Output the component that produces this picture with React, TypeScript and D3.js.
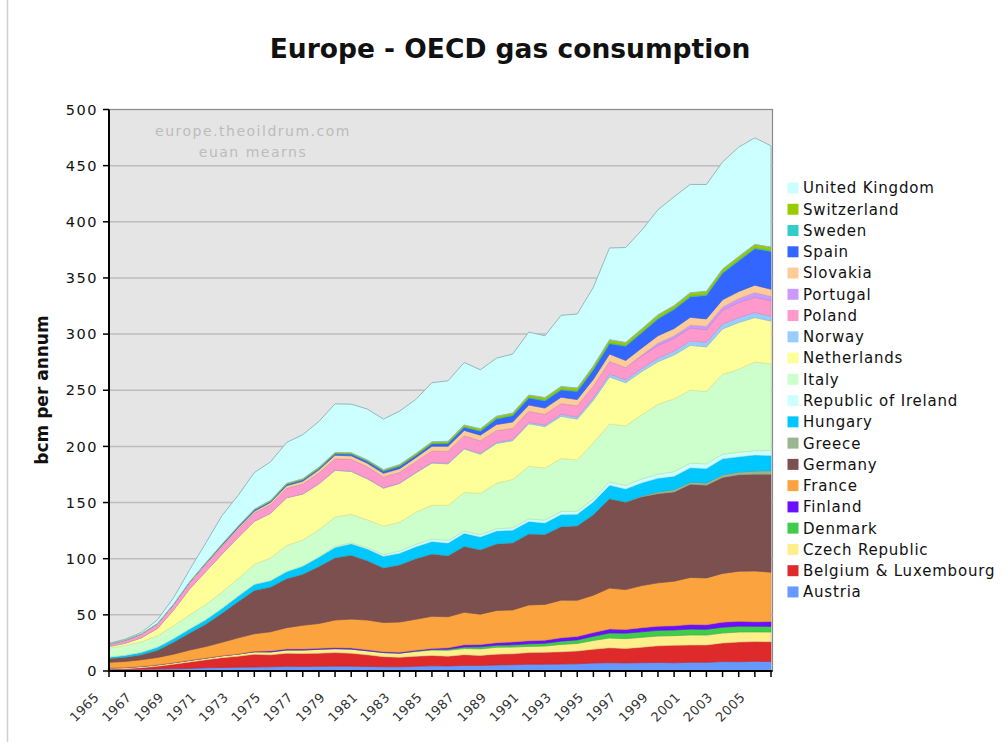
import React from "react";
import * as d3 from "d3";

const years: number[] = d3.range(1965, 2007);

const countries: string[] = [
  "Austria", "Belgium & Luxembourg", "Czech Republic", "Denmark", "Finland",
  "France", "Germany", "Greece", "Hungary", "Republic of Ireland", "Italy",
  "Netherlands", "Norway", "Poland", "Portugal", "Slovakia", "Spain",
  "Sweden", "Switzerland", "United Kingdom",
];

const colors: string[] = [
  "#6699FF", "#DF2A2C", "#FFEE8C", "#3FCC4B", "#6A10FF",
  "#FBA33F", "#7D5050", "#9BB58F", "#00C8FF", "#CCFFFF", "#CCFFCC",
  "#FFFF99", "#99CCFF", "#FF99CC", "#CC99FF", "#FFCC99", "#3366FF",
  "#33CCCC", "#99CC00", "#CCFFFF",
];

// bcm per annum, 1965..2006
const austria = [1.4,1.5,1.5,1.7,2.0,2.3,2.9,3.1,3.4,3.5, 3.7,4.2,4.0,4.2,4.3,4.3,4.0,3.8,3.7,4.2, 4.6,4.5,5.0,4.9,5.4,5.6,6.0,6.0,6.2,6.4, 7.1,7.4,7.2,7.4,7.6,7.3,7.7,7.7,8.4,8.2, 8.6,8.4];
const belgiumLux = [0.4,0.6,1.5,2.6,4.1,5.8,7.1,8.8,9.8,11.4, 10.7,11.6,11.6,11.7,12.1,11.5,10.4,9.0,8.5,9.0, 9.2,8.7,9.5,9.0,9.6,9.7,10.4,10.6,10.9,11.4, 12.3,13.2,12.9,13.8,14.8,15.6,15.4,15.5,16.5,17.6, 17.6,17.7];
const czech = [0.9,1.0,1.1,1.2,1.3,1.4,1.5,1.7,1.9,2.2, 2.6,2.9,3.1,3.4,3.5,3.7,3.6,3.6,3.7,4.2, 4.8,5.2,5.5,5.8,6.1,6.0,5.5,5.6,6.6,6.7, 7.8,8.8,8.7,8.8,8.7,8.6,9.0,8.8,8.9,8.9, 8.6,8.6];
const denmark = [0,0,0,0,0,0,0,0,0,0, 0,0,0,0,0,0,0,0,0,0.3, 0.6,1.0,1.4,1.8,1.9,2.0,2.3,2.5,2.9,3.2, 3.7,4.5,4.9,4.9,5.1,5.0,5.2,5.1,5.2,5.2, 5.0,5.0];
const finland = [0,0,0,0,0,0,0,0,0,0.4, 0.9,0.9,0.9,0.9,0.9,1.0,0.9,0.8,0.8,0.8, 0.9,1.2,1.9,2.0,2.2,2.6,2.7,2.7,2.9,3.1, 3.3,3.5,3.3,3.6,3.7,3.7,4.1,4.1,4.5,4.3, 4.0,4.3];
const france = [5.0,5.4,5.9,6.6,7.6,9.2,10.3,12.0,14.4,15.7, 17.0,19.0,21.1,22.1,24.6,25.7,26.5,26.0,26.9,27.6, 28.6,27.7,29.0,27.1,28.7,28.5,31.9,31.9,33.6,32.2, 33.3,36.4,35.5,37.6,38.6,39.8,41.9,41.7,43.4,44.6, 45.3,44.0];
const germany = [3.6,4.0,4.6,6.5,10.9,15.4,20.1,26.1,32.4,38.7, 40.0,43.8,45.6,50.9,55.6,57.0,53.0,48.7,51.1,54.1, 55.6,54.5,58.8,57.5,59.4,59.9,63.4,62.5,65.6,66.4, 71.9,79.7,77.9,79.0,79.4,79.5,82.9,82.6,85.5,85.9, 86.2,87.2];
const greece = [0,0,0,0,0,0,0,0,0,0, 0,0,0,0,0,0,0,0,0,0, 0,0,0,0,0,0,0,0,0,0, 0,0,0.2,0.8,1.4,2.0,1.9,2.0,2.3,2.4, 2.7,3.2];
const hungary = [1.2,1.6,2.1,2.7,3.1,3.5,3.9,4.2,4.9,5.4, 5.6,6.2,7.2,8.3,9.0,10.1,10.2,10.2,10.2,10.4, 11.0,11.1,11.6,11.3,11.4,11.1,11.0,10.1,10.7,10.2, 11.2,12.0,11.5,11.8,12.3,12.0,12.8,12.8,14.2,13.6, 14.3,13.4];
const ireland = [0,0,0,0,0,0,0,0,0,0, 0,0,0,0,0.9,0.9,1.0,1.5,2.0,2.1, 2.2,2.2,1.9,1.9,2.0,2.1,2.2,2.4,2.6,2.6, 2.7,2.9,3.1,3.3,3.6,4.0,4.2,4.1,4.1,4.1, 3.8,4.5];
const italy = [7.8,8.6,9.3,10.1,11.3,12.6,13.5,14.4,15.6,17.6, 20.2,23.2,23.1,24.4,26.2,25.4,25.0,25.4,25.6,28.7, 30.2,31.3,34.4,36.9,40.5,43.1,46.9,46.5,47.2,45.8, 49.9,51.6,53.2,57.2,62.3,64.9,65.0,64.6,71.2,73.9, 79.1,77.1];
const netherlands = [1.5,2.0,3.5,6.5,14.0,23.0,29.4,33.8,36.7,38.4, 39.7,42.5,40.9,40.6,41.5,38.0,36.4,33.7,34.5,35.0, 37.4,37.0,38.6,34.8,35.4,34.4,37.8,36.8,37.6,36.2, 37.8,41.8,38.2,38.5,37.9,39.0,39.9,39.6,40.4,41.6, 39.5,38.2];
const norway = [0,0,0,0,0,0,0,0,0,0, 0,0,0.2,0.3,0.3,0.4,0.4,0.4,0.5,0.5, 0.6,0.7,0.8,0.9,1.0,1.1,1.3,1.5,1.8,2.0, 2.3,2.6,2.7,2.9,3.2,3.6,3.9,4.1,4.3,4.5, 4.5,4.4];
const poland = [1.8,2.4,3.0,3.8,4.4,5.2,6.0,6.5,7.0,7.3, 7.7,8.4,8.8,9.5,10.2,10.5,10.4,9.7,9.4,9.5, 10.3,10.6,11.1,11.1,10.6,10.0,9.8,9.5,9.6,10.0, 10.5,11.2,10.9,10.9,11.1,11.1,11.5,11.2,12.3,13.2, 13.6,13.7];
const portugal = [0,0,0,0,0,0,0,0,0,0, 0,0,0,0,0,0,0,0,0,0, 0,0,0,0,0,0,0,0,0,0, 0,0,0.1,0.8,2.3,2.4,2.6,3.1,3.0,3.8, 4.2,4.1];
const slovakia = [0.3,0.4,0.5,0.6,0.7,0.8,1.0,1.2,1.4,1.7, 2.0,2.3,2.5,2.8,3.0,3.1,3.2,3.2,3.3,3.6, 4.1,4.4,4.7,5.0,5.3,5.6,5.6,5.5,5.6,5.5, 6.0,6.6,6.2,6.4,6.5,6.5,6.9,6.5,6.3,6.1, 6.6,6.1];
const spain = [0,0,0,0,0.1,0.2,0.6,0.9,1.1,1.2, 1.1,1.3,1.4,1.4,1.5,1.8,2.0,2.2,2.3,2.2, 2.4,2.6,2.8,3.5,5.0,5.5,6.2,6.4,6.4,7.1, 8.4,9.1,12.6,13.4,15.0,16.9,18.2,20.8,23.6,27.3, 32.4,33.7];
const sweden = [0,0,0,0,0,0,0,0,0,0, 0,0,0,0,0,0,0,0,0,0, 0.1,0.3,0.4,0.5,0.6,0.6,0.7,0.8,0.8,0.8, 0.8,0.9,0.8,0.8,0.8,0.8,0.9,1.0,0.9,0.9, 0.8,0.9];
const switzerland = [0,0,0,0,0,0.1,0.2,0.3,0.4,0.6, 0.7,0.8,0.8,0.9,0.9,1.0,1.0,1.1,1.3,1.4, 1.5,1.6,1.7,1.7,1.8,1.9,2.1,2.2,2.4,2.4, 2.6,2.8,2.7,2.8,2.9,2.7,2.9,2.8,2.9,3.0, 3.1,3.0];
const unitedKingdom = [0.8,0.8,1.3,3.2,5.8,10.8,17.6,25.4,27.4,32.6, 34.3,36.4,39.2,40.8,43.4,43.2,45.3,45.0,47.6,48.2, 52.6,53.8,55.6,52.5,51.7,52.5,56.0,55.0,63.3,65.9, 70.1,81.7,84.5,87.9,93.5,96.9,96.4,95.1,95.4,97.4, 94.9,90.1];

const seriesValues: number[][] = [
  austria, belgiumLux, czech, denmark, finland, france, germany, greece,
  hungary, ireland, italy, netherlands, norway, poland, portugal, slovakia,
  spain, sweden, switzerland, unitedKingdom,
];

const yTicks: number[] = [0, 50, 100, 150, 200, 250, 300, 350, 400, 450, 500];
const xLabelYears: number[] = d3.range(1965, 2006, 2);

const W = 1005;
const H = 742;
const plot = { left: 109, right: 771, top: 109.5, bottom: 671 };

export default function App() {
  const x = d3.scaleLinear().domain([1965, 2006]).range([plot.left, plot.right]);
  const y = d3.scaleLinear().domain([0, 500]).range([plot.bottom, plot.top]);

  const rows = years.map((yr, i) => {
    const r: Record<string, number> = { year: yr };
    countries.forEach((c, j) => (r[c] = seriesValues[j][i]));
    return r;
  });
  const stacked = d3.stack<Record<string, number>>().keys(countries)(rows);
  const area = d3
    .area<d3.SeriesPoint<Record<string, number>>>()
    .x((d) => x(d.data.year))
    .y0((d) => y(d[0]))
    .y1((d) => y(d[1]));

  const font = "'DejaVu Sans', Verdana, sans-serif";
  const legendTop = 188;
  const legendStep = 21.26;
  const legendOrder = countries.map((c, i) => i).reverse();

  return (
    <svg
      width={W}
      height={H}
      style={{ position: "absolute", left: 0, top: 0, background: "#fff" }}
      fontFamily={font}
    >
      <rect x={0} y={0} width={W} height={H} fill="#fff" />
      <line x1={7.5} y1={0} x2={7.5} y2={H} stroke="#cfcfcf" strokeWidth={1.5} />
      <text x={510} y={58} textAnchor="middle" fontSize={26.5} fontWeight="bold" fill="#111">
        Europe - OECD gas consumption
      </text>

      <rect
        x={plot.left}
        y={plot.top}
        width={plot.right - plot.left + 1.5}
        height={plot.bottom - plot.top}
        fill="#E5E5E5"
        stroke="#8a8a8a"
        strokeWidth={1.2}
      />
      {yTicks.slice(1, -1).map((t) => (
        <line key={t} x1={plot.left} x2={plot.right + 1.5} y1={y(t)} y2={y(t)} stroke="#bdbdbd" strokeWidth={1.5} />
      ))}

      <text x={253} y={136} textAnchor="middle" fontSize={14} fill="#bcbcbc" letterSpacing={1.5}>
        europe.theoildrum.com
      </text>
      <text x={253} y={157} textAnchor="middle" fontSize={14} fill="#bcbcbc" letterSpacing={1.5}>
        euan mearns
      </text>

      {stacked.map((s, i) => (
        <path
          key={s.key}
          d={area(s) || ""}
          fill={colors[i]}
          stroke={d3.color(colors[i])!.darker(i === 19 ? 0.9 : 0.35).formatHex()}
          strokeWidth={i === 19 ? 1 : 0.6}
        />
      ))}

      {/* axes */}
      <line x1={plot.left} x2={plot.left} y1={plot.top} y2={plot.bottom + 1} stroke="#000" strokeWidth={2} />
      <line x1={plot.left - 1} x2={plot.right + 1.5} y1={plot.bottom} y2={plot.bottom} stroke="#000" strokeWidth={2} />
      {yTicks.map((t) => (
        <g key={t}>
          <line x1={plot.left - 6} x2={plot.left} y1={y(t)} y2={y(t)} stroke="#000" strokeWidth={1.5} />
          <text x={98} y={y(t)} dy="0.36em" textAnchor="end" fontSize={14.5} letterSpacing={1.5} fill="#111">
            {t}
          </text>
        </g>
      ))}
      {years.map((yr) => (
        <line key={yr} x1={x(yr)} x2={x(yr)} y1={plot.bottom} y2={plot.bottom + 6} stroke="#000" strokeWidth={1.5} />
      ))}
      {xLabelYears.map((yr) => (
        <text
          key={yr}
          transform={`translate(${x(yr) - 9},${plot.bottom + 27}) rotate(-45)`}
          textAnchor="end"
          fontSize={13}
          letterSpacing={0.5}
          fill="#333"
        >
          {yr}
        </text>
      ))}

      <text
        transform={`translate(48,390) rotate(-90)`}
        textAnchor="middle"
        fontSize={17}
        fontWeight="bold"
        fill="#111"
      >
        bcm per annum
      </text>

      {legendOrder.map((idx, k) => {
        const cy = legendTop + k * legendStep;
        return (
          <g key={countries[idx]}>
            <rect x={787.5} y={cy - 5.5} width={11} height={11} fill={colors[idx]} />
            <text x={803} y={cy} dy="0.36em" fontSize={15} fill="#111" letterSpacing={0.8}>
              {countries[idx]}
            </text>
          </g>
        );
      })}
    </svg>
  );
}
